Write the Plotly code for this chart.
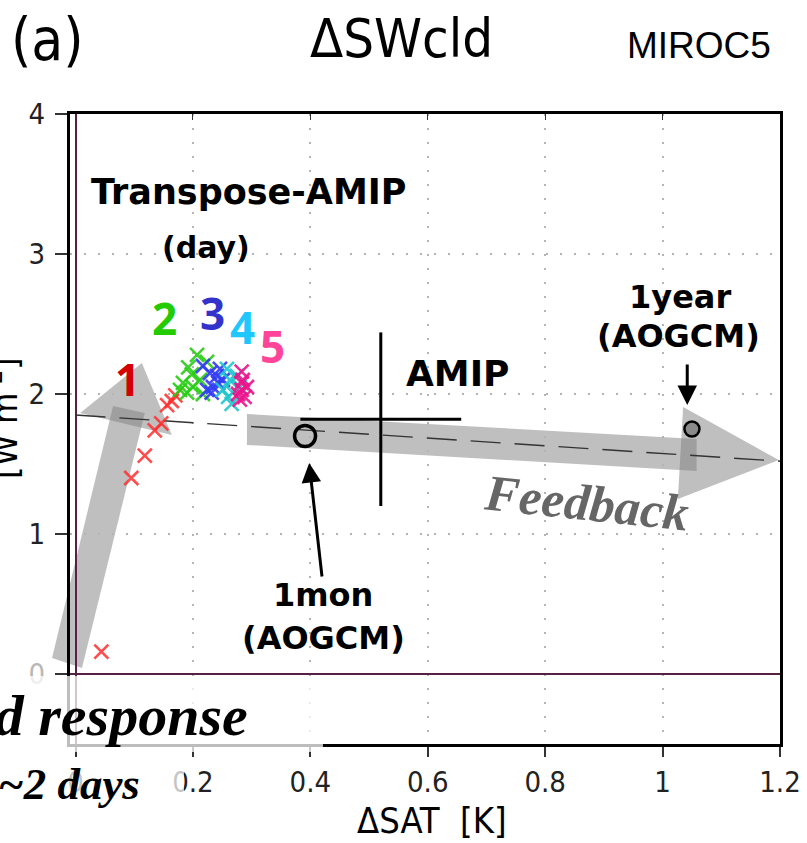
import plotly.graph_objects as go

# ---------------------------------------------------------------------------
# Transpose-AMIP daily responses (day 1 ... day 5): ΔSAT [K] and ΔSWcld [W m-2]
# ---------------------------------------------------------------------------
day1_sat = [0.044, 0.095, 0.118, 0.135, 0.146, 0.156, 0.164, 0.170]
day1_swcld = [0.16, 1.40, 1.56, 1.74, 1.79, 1.92, 1.95, 1.99]

day2_sat = [0.178, 0.183, 0.190, 0.192, 0.198, 0.200, 0.207, 0.212, 0.217, 0.224]
day2_swcld = [2.03, 2.08, 2.01, 2.19, 2.14, 2.05, 2.28, 2.10, 2.00, 2.23]

day3_sat = [0.217, 0.224, 0.229, 0.232, 0.234, 0.241, 0.243, 0.246, 0.251]
day3_swcld = [2.20, 2.03, 2.15, 2.01, 2.05, 2.13, 2.08, 2.18, 2.10]

day4_sat = [0.251, 0.258, 0.260, 0.263, 0.266, 0.268, 0.275, 0.280]
day4_swcld = [2.03, 2.18, 1.98, 2.10, 1.93, 2.01, 2.13, 2.05]

day5_sat = [0.277, 0.280, 0.283, 0.283, 0.285, 0.288, 0.292, 0.283]
day5_swcld = [2.00, 1.96, 2.16, 2.03, 2.10, 1.98, 2.05, 2.08]

day_labels = ["1", "2", "3", "4", "5"]

# AMIP mean with its spread
amip_sat = [0.520]
amip_swcld = [1.82]
amip_sat_err = [0.137]
amip_swcld_err = [0.62]

# AOGCM (abrupt forcing) means
aogcm_1mon_sat = [0.391]
aogcm_1mon_swcld = [1.70]
aogcm_1yr_sat = [1.050]
aogcm_1yr_swcld = [1.75]

# Regression line end points
reg_sat = [0.0, 1.2]
reg_swcld = [1.85, 1.52]

# Axis ticks
x_ticks = [0, 0.2, 0.4, 0.6, 0.8, 1.0, 1.2]
x_ticktext = ["0", "0.2", "0.4", "0.6", "0.8", "1", "1.2"]
y_ticks = [0, 1, 2, 3, 4]
y_ticktext = ["<span style='color:#b8b8b8'>0</span>", "1", "2", "3", "4"]

# ---------------------------------------------------------------------------
W, H = 807, 843
L, R, T, B = 70, 27, 114, 99
X_RANGE = [-0.0094, 1.2]
Y_RANGE = [-0.5, 4.0]

NARROW = "DejaVu Sans Condensed, Liberation Sans Narrow, Liberation Sans, sans-serif"
BOLD = "DejaVu Sans, Noto Sans, sans-serif"
SERIF = "Liberation Serif, DejaVu Serif, serif"


def data_to_paper(x, y):
    return ((x - X_RANGE[0]) / (X_RANGE[1] - X_RANGE[0]),
            (y - Y_RANGE[0]) / (Y_RANGE[1] - Y_RANGE[0]))


def pix_to_paper(px, py):
    return ((px - L) / (W - L - R), (H - B - py) / (H - T - B))


def poly_path(points, conv):
    pts = [conv(x, y) for x, y in points]
    return "M " + " L ".join(f"{a:.5f},{b:.5f}" for a, b in pts) + " Z"


fig = go.Figure()

day_sets = [
    (day1_sat, day1_swcld, "rgba(255,45,45,0.85)"),
    (day2_sat, day2_swcld, "rgba(40,205,20,0.9)"),
    (day3_sat, day3_swcld, "rgba(50,60,245,0.9)"),
    (day4_sat, day4_swcld, "rgba(30,200,205,0.9)"),
    (day5_sat, day5_swcld, "rgba(235,20,140,0.9)"),
]

# regression (dashed)
fig.add_trace(go.Scatter(
    x=reg_sat, y=reg_swcld, mode="lines",
    line=dict(color="#333333", width=1.4, dash="30px,14px"),
    hoverinfo="skip", showlegend=False))

for xs, ys, col in day_sets:
    fig.add_trace(go.Scatter(
        x=xs, y=ys, mode="markers",
        marker=dict(symbol="x-thin", size=14, color=col,
                    line=dict(color=col, width=2.6)),
        showlegend=False))

# AMIP cross
fig.add_trace(go.Scatter(
    x=amip_sat, y=amip_swcld, mode="markers",
    marker=dict(size=1, color="rgba(0,0,0,0)"),
    error_x=dict(type="data", array=amip_sat_err, color="black", thickness=3, width=0),
    error_y=dict(type="data", array=amip_swcld_err, color="black", thickness=3, width=0),
    showlegend=False))

# AOGCM 1 month / 1 year
fig.add_trace(go.Scatter(
    x=aogcm_1mon_sat, y=aogcm_1mon_swcld, mode="markers",
    marker=dict(symbol="circle-open", size=21, color="black", line=dict(width=3.5)),
    showlegend=False))
fig.add_trace(go.Scatter(
    x=aogcm_1yr_sat, y=aogcm_1yr_swcld, mode="markers",
    marker=dict(symbol="circle", size=15, color="#8a8a8a",
                line=dict(color="black", width=2.5)),
    showlegend=False))

# top axis carrier (inside ticks)
fig.add_trace(go.Scatter(x=[None], y=[None], xaxis="x2", showlegend=False, hoverinfo="skip"))

# ---------------------------------------------------------------------------
# Gray illustrative arrows (forced response, feedback)
gray = "rgba(128,128,128,0.5)"
forced_shaft = [(-0.040, 0.114), (0.011, 0.043), (0.118, 1.864), (0.064, 1.914)]
forced_head = [(0.113, 2.221), (0.008, 1.864), (0.164, 1.707)]
feedback_shaft = [(0.292, 1.857), (0.292, 1.636), (1.058, 1.450), (1.058, 1.679)]
feedback_head = [(1.035, 1.907), (1.026, 1.250), (1.198, 1.529)]

shapes = []
for poly in (forced_shaft, forced_head, feedback_shaft, feedback_head):
    shapes.append(dict(type="path", path=poly_path(poly, data_to_paper),
                       xref="paper", yref="paper", fillcolor=gray,
                       line=dict(width=0), layer="below"))

# translucent white boxes behind the "response" text block
box1 = [(-10, 676), (323, 676), (323, 752), (-10, 752)]
box2 = [(-10, 757), (184, 757), (184, 808), (-10, 808)]
for box in (box1, box2):
    shapes.append(dict(type="path", path=poly_path(box, pix_to_paper),
                       xref="paper", yref="paper",
                       fillcolor="rgba(255,255,255,0.74)",
                       line=dict(width=0), layer="above"))

# ---------------------------------------------------------------------------
ann = []

def ptext(text, px, py, size, family, color="black", xanchor="center", yanchor="middle",
          angle=0):
    x, y = pix_to_paper(px, py)
    ann.append(dict(text=text, x=x, y=y, xref="paper", yref="paper", showarrow=False,
                    xanchor=xanchor, yanchor=yanchor, textangle=angle,
                    font=dict(size=size, family=family, color=color)))

def dtext(text, x, y, size, family, color="black", angle=0):
    ann.append(dict(text=text, x=x, y=y, xref="x", yref="y", showarrow=False,
                    textangle=angle, font=dict(size=size, family=family, color=color)))

# titles
ptext("(a)", 47, 40, 58, NARROW)
ptext("ΔSWcld", 401, 39, 54, NARROW)
ptext("MIROC5", 699, 46, 37, "Liberation Sans, Arial, sans-serif")
ptext("ΔSAT  [K]", 432, 820, 36, NARROW)
ptext("[W m<sup>-2</sup>]", 2, 418, 36, NARROW, angle=-90)

# day numbers
num_colors = ["#d40000", "#22cc00", "#3333cc", "#1ec8ff", "#ff4499"]
num_pos = [(0.089, 2.11), (0.152, 2.54), (0.234, 2.58), (0.284, 2.48), (0.336, 2.34)]
for lab, col, (x, y) in zip(day_labels, num_colors, num_pos):
    dtext(f"<b>{lab}</b>", x, y, 44, "Noto Sans, DejaVu Sans, sans-serif", col)

dtext("<b>Transpose-AMIP</b>", 0.294, 3.44, 35, BOLD)
dtext("<b>(day)</b>", 0.222, 3.05, 30, BOLD)
dtext("<b>AMIP</b>", 0.651, 2.15, 36, BOLD)

ptext("<b>1year</b>", 680, 297, 32, BOLD)
ptext("<b>(AOGCM)</b>", 678, 336, 32, BOLD)
ptext("<b>1mon</b>", 323, 595, 32, BOLD)
ptext("<b>(AOGCM)</b>", 323, 638, 32, BOLD)

ptext("<b><i>Feedback</i></b>", 586, 503, 51, SERIF, color="#666666", angle=6)
ptext("<b><i>Forced response</i></b>", 250, 715, 58, SERIF, xanchor="right")
ptext("<b><i>~2 days</i></b>", 142, 784, 45, SERIF, xanchor="right")

# pointer arrows
ann.append(dict(x=0.398, y=1.507, xref="x", yref="y", text="", showarrow=True,
                ax=13, ay=115, arrowhead=2, arrowsize=1.3, arrowwidth=3, arrowcolor="black"))
ann.append(dict(x=1.042, y=1.921, xref="x", yref="y", text="", showarrow=True,
                ax=0, ay=-42, arrowhead=2, arrowsize=1.3, arrowwidth=3, arrowcolor="black"))

# ---------------------------------------------------------------------------
grid_style = dict(showgrid=True, gridcolor="#b4b4b4", gridwidth=1.6, griddash="2px,12px")

fig.update_layout(
    width=W, height=H,
    margin=dict(l=L, r=R, t=T, b=B, autoexpand=False),
    paper_bgcolor="white", plot_bgcolor="white",
    shapes=shapes, annotations=ann,
    xaxis=dict(range=X_RANGE, tickvals=x_ticks, ticktext=x_ticktext,
               showline=True, linecolor="black", linewidth=3, mirror=True,
               ticks="outside", ticklen=10, tickwidth=1.5, tickcolor="#333",
               tickfont=dict(size=29, family=NARROW, color="#222"),
               zeroline=True, zerolinecolor="#552244", zerolinewidth=2,
               **grid_style),
    xaxis2=dict(range=X_RANGE, overlaying="x", side="top", tickvals=x_ticks,
                ticks="inside", ticklen=6, tickwidth=1.2, tickcolor="#333",
                showticklabels=False, showgrid=False, zeroline=False, showline=False),
    yaxis=dict(range=Y_RANGE, tickvals=y_ticks, ticktext=y_ticktext,
               showline=True, linecolor="black", linewidth=3, mirror=True,
               ticks="outside", ticklen=12, tickwidth=1.5, tickcolor="#333",
               ticklabelstandoff=4,
               tickfont=dict(size=29, family=NARROW, color="#222"),
               zeroline=True, zerolinecolor="#552244", zerolinewidth=2,
               **grid_style),
)

fig.write_html("out.html")
